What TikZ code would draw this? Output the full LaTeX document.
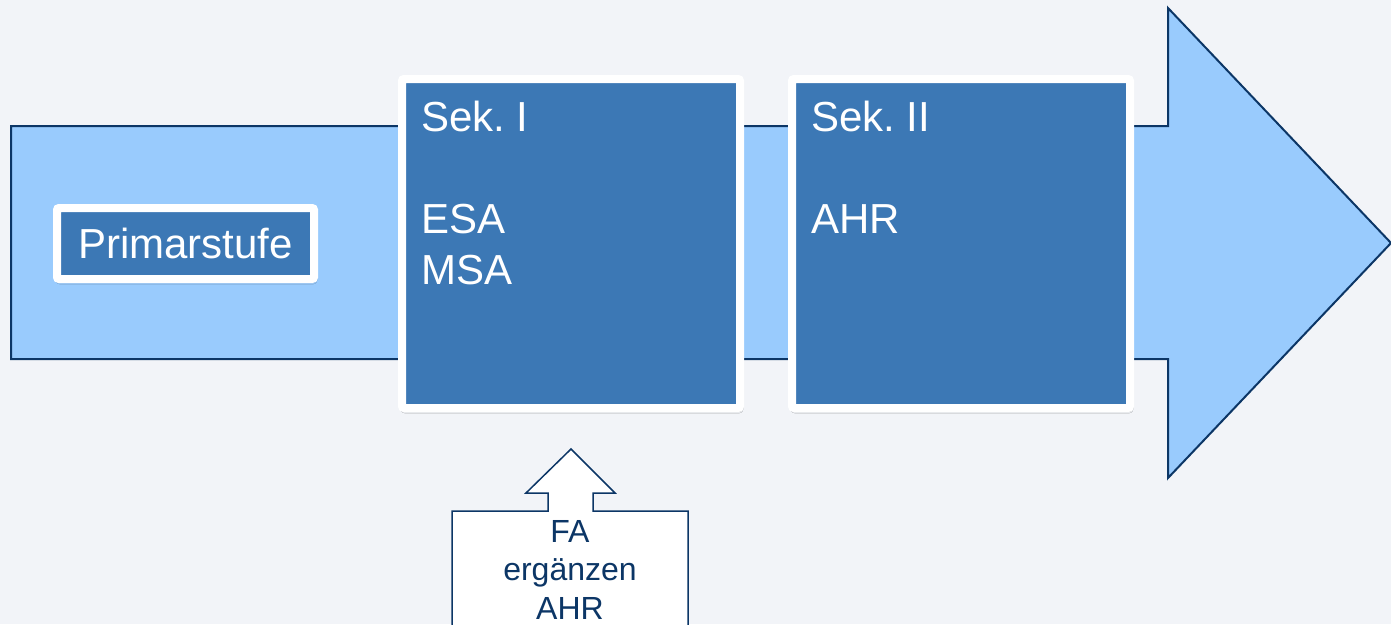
\documentclass[tikz,border=0pt]{standalone}
\usepackage{fontspec}
\setmainfont{Liberation Sans}
\usetikzlibrary{shadows.blur}
\frenchspacing

\definecolor{bgcol}{RGB}{242,244,248}
\definecolor{pfeil}{RGB}{153,203,253}
\definecolor{kasten}{RGB}{60,120,181}
\definecolor{rand}{RGB}{12,54,102}

\tikzset{
  stufe/.style={draw=white, line width=8pt, fill=kasten, rounded corners=2pt,
    blur shadow={shadow xshift=1pt, shadow yshift=-3pt, shadow opacity=40, shadow blur steps=6}},
  schrift/.style={text=white, inner sep=0pt, align=left, font=\fontsize{42}{51}\selectfont}
}

\begin{document}
\begin{tikzpicture}[x=1pt, y=-1pt]
  \clip (0,0) rectangle (1391,624);
  \fill[bgcol] (0,0) rectangle (1391,624);

  % grosser Pfeil
  \draw[rand, line width=2pt, fill=pfeil, line join=miter]
    (11,126) -- (1168,126) -- (1168,8) -- (1391,243) -- (1168,478)
    -- (1168,359) -- (11,359) -- cycle;

  \node[stufe, minimum width=257pt, minimum height=71pt] (primar) at (185.5,243.5) {};
  \node[schrift] (primar-text) at (primar) {Primarstufe};

  \foreach \name/\x/\txt in {sekone/571/{Sek. I\\[51pt]ESA\\MSA}, sektwo/961/{Sek. II\\[51pt]AHR}}
  {
    \node[stufe, minimum width=338pt, minimum height=329pt] (\name) at (\x,243.5) {};
    \node[schrift, anchor=north west] (\name-text) at ([xshift=23pt, yshift=-26pt]\name.north west) {\txt};
  }

  % kleiner Pfeil nach oben
  \draw[rand, line width=1.5pt, fill=white]
    (452,640) -- (452,511) -- (548,511) -- (548,493) -- (526,493) -- (571,449)
    -- (615,493) -- (593,493) -- (593,511) -- (688,511) -- (688,640);
  \node[text=rand, inner sep=0pt, align=center, anchor=north, font=\fontsize{32}{38.5}\selectfont]
    (fa) at (570,520) {FA\\ergänzen\\AHR};
\end{tikzpicture}
\end{document}
